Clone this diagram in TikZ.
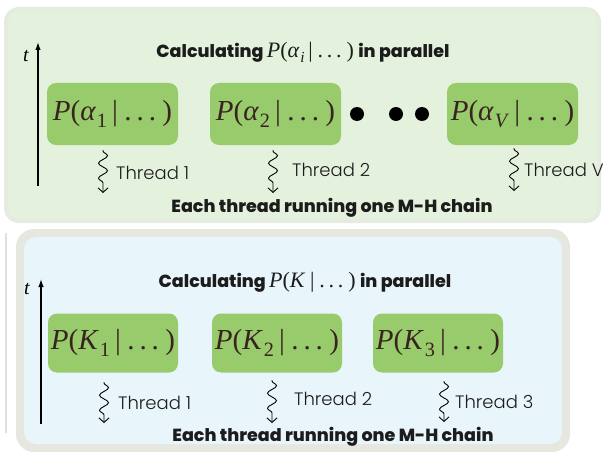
\documentclass[tikz,border=0pt]{standalone}
\usepackage{fontspec}
\newfontfamily\popb{Poppins ExtraBold}
\newfontfamily\popl{Poppins Light}
\newfontfamily\tms{Liberation Serif}
\usetikzlibrary{arrows.meta,decorations.pathmorphing}
\definecolor{topring}{HTML}{E6EBE1}
\definecolor{topfill}{HTML}{E4F2DD}
\definecolor{botring}{HTML}{E6E8DF}
\definecolor{botfill}{HTML}{E8F5FB}
\definecolor{boxgreen}{HTML}{98CB6B}
\definecolor{mathdark}{HTML}{3A2222}
\definecolor{textdark}{HTML}{1C1C1C}
\newcommand\prb[2]{{\tms\mdseries\textit{P}(\textit{#1}\kern0.03em\raisebox{-0.22em}{\scalebox{0.7}{#2}}\kern0.18em|\kern0.22em.\kern0.17em.\kern0.17em.\kern0.22em)}}
\begin{document}
\begin{tikzpicture}[x=1pt,y=-1pt,
  probbox/.style={fill=boxgreen, rounded corners=9pt, minimum width=131pt, minimum height=62pt, inner sep=0pt, text=mathdark, font=\fontsize{29}{31}\selectfont},
  headtext/.style={font=\popb\fontsize{17.5}{20}\selectfont, text=textdark, inner sep=0pt},
  threadtext/.style={font=\popl\fontsize{18}{20}\selectfont, text=textdark, anchor=west, inner sep=0pt},
  taxis/.style={line width=1.3pt, -{Latex[length=8pt,width=5.5pt]}},
  tlabel/.style={font=\tms\itshape\fontsize{20}{22}\selectfont, inner sep=0pt},
  squig/.style={line width=0.9pt, decorate, decoration={snake, amplitude=4.5pt, segment length=15pt, pre length=1pt, post length=4pt}, -{Straight Barb[length=4.5pt,width=10pt]}},
  dotnode/.style={circle, fill=black, minimum size=14pt, inner sep=0pt}
]
\useasboundingbox (0,0) rectangle (603,452);
% panels
\fill[topring, rounded corners=15pt] (4,7) rectangle (601,223);
\fill[topfill, rounded corners=12pt] (8,11) rectangle (597,219);
\fill[botring, rounded corners=18pt] (16,229) rectangle (570,452);
\fill[botfill, rounded corners=12pt] (24,237) rectangle (562,444);
\draw[line width=1.5pt, color=black!12] (6,233) -- (6,433);

% ---------- top panel ----------
\node[tlabel] (t1) at (26,56) {t};
\coordinate (ta0) at (38,186);
\coordinate (ta1) at (38,42);
\draw[taxis] (ta0) -- (ta1);
\node[headtext] (h1) at (303,52) {Calculating {\fontsize{22}{24}\selectfont\prb{α}{\textit{i}}} in parallel};

\node[probbox] (b1) at (112.5,114) {\prb{α}{1}};
\node[probbox] (b2) at (275.5,114) {\prb{α}{2}};
\node[probbox] (bv) at (512.5,114) {\prb{α}{\textit{V}}};
\node[dotnode] (d1) at (357,114) {};
\node[dotnode] (d2) at (396,114) {};
\node[dotnode] (d3) at (422,114) {};

\coordinate (s1a) at (103,150);
\coordinate (s1b) at (103,193);
\coordinate (s2a) at (273,150);
\coordinate (s2b) at (273,193);
\coordinate (sva) at (514,148);
\coordinate (svb) at (514,191);
\draw[squig] (s1a) -- (s1b);
\draw[squig] (s2a) -- (s2b);
\draw[squig] (sva) -- (svb);
\node[threadtext] (th1) at (116,173) {Thread 1};
\node[threadtext] (th2) at (292,170) {Thread 2};
\node[threadtext] (thv) at (524,170) {Thread V};
\node[headtext] (f1) at (332,208) {Each thread running one M-H chain};

% ---------- bottom panel ----------
\node[tlabel] (t2) at (27,289) {t};
\coordinate (tb0) at (41,424);
\coordinate (tb1) at (41,279);
\draw[taxis] (tb0) -- (tb1);
\node[headtext] (h2) at (305,282) {Calculating {\fontsize{22}{24}\selectfont\prb{K}{}} in parallel};

\node[probbox, minimum width=130pt, minimum height=59pt] (k1) at (113,343) {\prb{K}{1}};
\node[probbox, minimum width=130pt, minimum height=59pt] (k2) at (277,343) {\prb{K}{2}};
\node[probbox, minimum width=130pt, minimum height=59pt] (k3) at (438,343) {\prb{K}{3}};

\coordinate (r1a) at (104,382);
\coordinate (r1b) at (104,423);
\coordinate (r2a) at (272,380);
\coordinate (r2b) at (272,423);
\coordinate (r3a) at (444,381);
\coordinate (r3b) at (444,422);
\draw[squig] (r1a) -- (r1b);
\draw[squig] (r2a) -- (r2b);
\draw[squig] (r3a) -- (r3b);
\node[threadtext] (tk1) at (118,403) {Thread 1};
\node[threadtext] (tk2) at (294,399) {Thread 2};
\node[threadtext] (tk3) at (455,402) {Thread 3};
\node[headtext] (f2) at (333,437) {Each thread running one M-H chain};
\end{tikzpicture}
\end{document}
